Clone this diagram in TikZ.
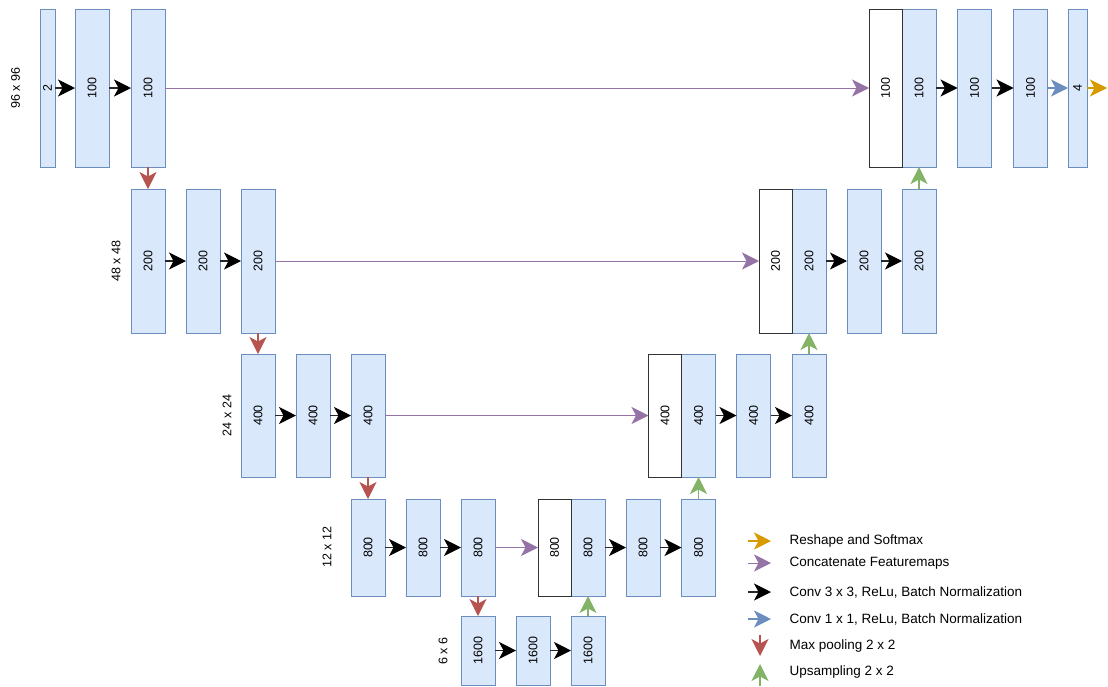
\documentclass[tikz,border=0pt]{standalone}
\usepackage{fontspec}
\setmainfont{Liberation Sans}
\usetikzlibrary{arrows.meta,positioning}

\definecolor{mapfill}{HTML}{DAE8FC}
\definecolor{mapline}{HTML}{6C8EBF}
\definecolor{poolred}{HTML}{B85450}
\definecolor{upgreen}{HTML}{82B366}
\definecolor{catpurple}{HTML}{9673A6}
\definecolor{outorange}{HTML}{D79B00}

\newcommand{\vt}[1]{\rotatebox{90}{#1}}

\begin{document}
\begin{tikzpicture}[
  x=1pt, y=-1pt,
  every node/.style={font=\fontsize{12.5}{15}\selectfont},
  fmap/.style={draw=mapline, fill=mapfill, line width=1pt, minimum width=34pt, inner sep=0pt, outer sep=0pt},
  catmap/.style={draw=black!80, fill=white, line width=1pt, minimum width=33pt, inner sep=0pt, outer sep=0pt},
  hone/.style={minimum height=158pt},
  htwo/.style={minimum height=144pt},
  hthree/.style={minimum height=123pt},
  hfour/.style={minimum height=97pt},
  hfive/.style={minimum height=69pt},
  size/.style={rotate=90},
  keytext/.style={anchor=west, font=\fontsize{13.5}{16}\selectfont},
  tip/.style={-{Stealth[length=17pt,width=17pt,inset=4.5pt]}, line width=1.2pt},
  conv/.style={tip, draw=black!85, -{Stealth[length=17pt,width=17pt,inset=4.5pt,fill=black,color=black]}},
  conv1/.style={tip, draw=mapline},
  pool/.style={tip, draw=poolred},
  upsample/.style={tip, draw=upgreen},
  concat/.style={tip, draw=catpurple, line width=0.8pt},
  softmax/.style={tip, draw=outorange}
]
\useasboundingbox (0,0) rectangle (1108,686);

% encoder
\node[fmap, hone, minimum width=15pt] (e1a) at (47.5,88) {\vt{2}};
\node[fmap, hone] (e1b) at (92,88) {\vt{100}};
\node[fmap, hone] (e1c) at (148,88) {\vt{100}};
\node[fmap, htwo] (e2a) at (148,261) {\vt{200}};
\node[fmap, htwo] (e2b) at (203,261) {\vt{200}};
\node[fmap, htwo] (e2c) at (258,261) {\vt{200}};
\node[fmap, hthree] (e3a) at (258,415.5) {\vt{400}};
\node[fmap, hthree] (e3b) at (313,415.5) {\vt{400}};
\node[fmap, hthree] (e3c) at (368,415.5) {\vt{400}};
\node[fmap, hfour] (e4a) at (368,547.5) {\vt{800}};
\node[fmap, hfour] (e4b) at (423,547.5) {\vt{800}};
\node[fmap, hfour] (e4c) at (478,547.5) {\vt{800}};

% bottleneck
\node[fmap, hfive] (b1) at (478,650.5) {\vt{1600}};
\node[fmap, hfive] (b2) at (533,650.5) {\vt{1600}};
\node[fmap, hfive] (b3) at (588,650.5) {\vt{1600}};

% decoder
\node[fmap, hfour] (d4a) at (588,547.5) {\vt{800}};
\node[fmap, hfour] (d4b) at (643,547.5) {\vt{800}};
\node[fmap, hfour] (d4c) at (698.5,547.5) {\vt{800}};
\node[fmap, hthree] (d3a) at (698.5,415.5) {\vt{400}};
\node[fmap, hthree] (d3b) at (753.5,415.5) {\vt{400}};
\node[fmap, hthree] (d3c) at (809,415.5) {\vt{400}};
\node[fmap, htwo] (d2a) at (809,261) {\vt{200}};
\node[fmap, htwo] (d2b) at (864,261) {\vt{200}};
\node[fmap, htwo] (d2c) at (919,261) {\vt{200}};
\node[fmap, hone] (d1a) at (919,88) {\vt{100}};
\node[fmap, hone] (d1b) at (974.5,88) {\vt{100}};
\node[fmap, hone] (d1c) at (1030.5,88) {\vt{100}};
\node[fmap, hone, minimum width=19pt] (out) at (1077.5,88) {\vt{4}};
\coordinate (outend) at (1107,88);

% copied feature maps
\node[catmap, hone, anchor=east] (d1cat) at (d1a.west) {\vt{100}};
\node[catmap, htwo, anchor=east] (d2cat) at (d2a.west) {\vt{200}};
\node[catmap, hthree, anchor=east] (d3cat) at (d3a.west) {\vt{400}};
\node[catmap, hfour, anchor=east] (d4cat) at (d4a.west) {\vt{800}};

% resolutions
\node[size] (s96) at (15.5,88) {96 x 96};
\node[size] (s48) at (116,261) {48 x 48};
\node[size] (s24) at (227,415.5) {24 x 24};
\node[size] (s12) at (327,547) {12 x 12};
\node[size] (s6) at (443,651) {6 x 6};

\foreach \a/\b in {e1a/e1b, e1b/e1c, e2a/e2b, e2b/e2c, e3a/e3b, e3b/e3c, e4a/e4b, e4b/e4c,
                   b1/b2, b2/b3, d4a/d4b, d4b/d4c, d3a/d3b, d3b/d3c, d2a/d2b, d2b/d2c, d1a/d1b, d1b/d1c}
  \draw[conv] (\a) -- (\b);

\draw[pool] (e1c) -- (e2a);
\draw[pool] (e2c) -- (e3a);
\draw[pool] (e3c) -- (e4a);
\draw[pool] (e4c) -- (b1);

\draw[upsample] (b3) -- (d4a);
\draw[upsample] (d4c) -- (d3a);
\draw[upsample] (d3c) -- (d2a);
\draw[upsample] (d2c) -- (d1a);

\draw[concat] (e1c) -- (d1cat);
\draw[concat] (e2c) -- (d2cat);
\draw[concat] (e3c) -- (d3cat);
\draw[concat] (e4c) -- (d4cat);

\draw[conv1] (d1c) -- (out);
\draw[softmax] (out) -- (outend);

% legend
\coordinate (k1a) at (748,541); \coordinate (k1b) at (771,541);
\coordinate (k2a) at (748,563); \coordinate (k2b) at (771,563);
\coordinate (k3a) at (748,592); \coordinate (k3b) at (771,592);
\coordinate (k4a) at (748,619); \coordinate (k4b) at (771,619);
\coordinate (k5a) at (760,635); \coordinate (k5b) at (760,656);
\coordinate (k6a) at (760,686); \coordinate (k6b) at (760,664);
\draw[softmax] (k1a) -- (k1b);
\draw[concat] (k2a) -- (k2b);
\draw[conv] (k3a) -- (k3b);
\draw[conv1] (k4a) -- (k4b);
\draw[pool] (k5a) -- (k5b);
\draw[upsample] (k6a) -- (k6b);
\node[keytext] (t1) at (786,541) {Reshape and Softmax};
\node[keytext] (t2) at (786,563) {Concatenate Featuremaps};
\node[keytext] (t3) at (786,592) {Conv 3 x 3, ReLu, Batch Normalization};
\node[keytext] (t4) at (786,619) {Conv 1 x 1, ReLu, Batch Normalization};
\node[keytext] (t5) at (786,646) {Max pooling 2 x 2};
\node[keytext] (t6) at (786,672) {Upsampling 2 x 2};
\end{tikzpicture}
\end{document}
